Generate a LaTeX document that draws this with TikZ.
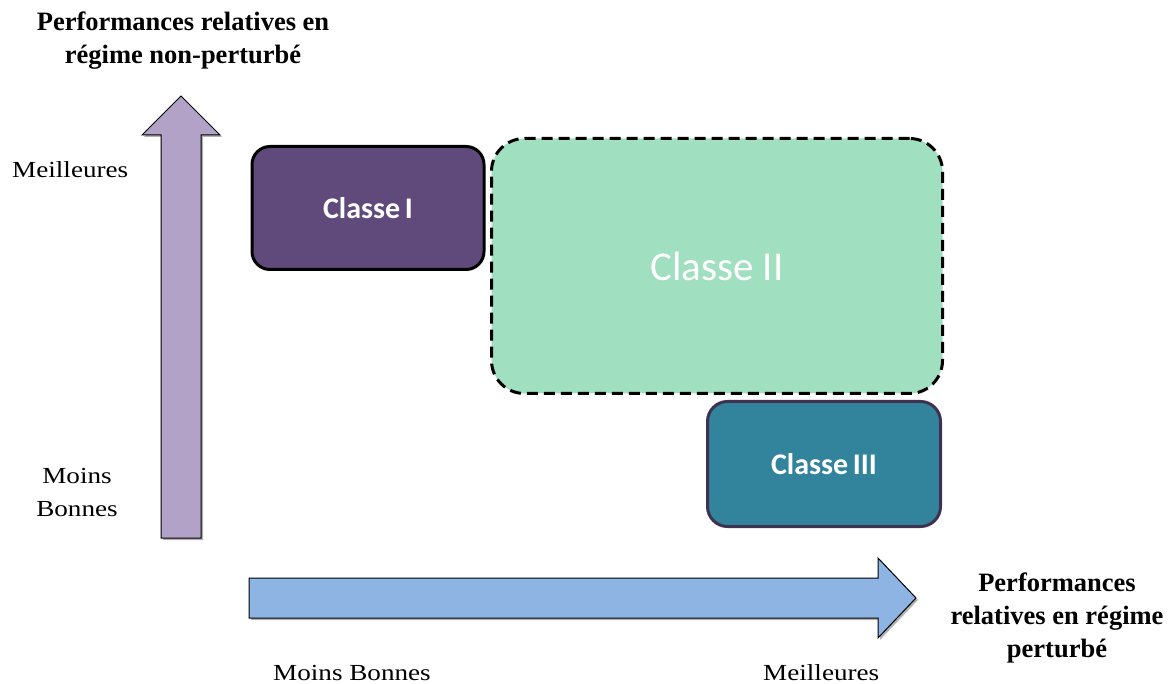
\documentclass[tikz,border=0pt]{standalone}
\usepackage{fontspec}
\setmainfont{Liberation Serif}
\newfontfamily\serifwide[FakeStretch=1.18]{Liberation Serif}
\newfontfamily\calibfont{Carlito}
\usetikzlibrary{shadows}
\definecolor{lav}{HTML}{B3A2C7}
\definecolor{skyb}{HTML}{8EB4E3}
\definecolor{cone}{HTML}{604A7B}
\definecolor{ctwo}{HTML}{A0E0C0}
\definecolor{cthree}{HTML}{31849B}
\definecolor{cthreeb}{HTML}{3F3151}
\tikzset{
  axisarrow/.style={draw=black, line width=1pt, line join=miter,
    drop shadow={shadow xshift=2pt, shadow yshift=-2pt, opacity=0.3, fill=black}},
  classbox/.style={line width=3pt, text=white, inner sep=0pt},
  boldlabel/.style={font=\fontsize{26.5}{33}\selectfont\bfseries, align=center, inner sep=0pt},
  reglabel/.style={font=\serifwide\fontsize{23}{34}\selectfont, align=center, inner sep=0pt}
}
\begin{document}
\begin{tikzpicture}[x=1pt,y=-1pt]
\useasboundingbox (0,0) rectangle (1176,684);
% vertical axis arrow
\path[axisarrow, fill=lav] (181,96) -- (220,135) -- (201,135) -- (201,538) -- (161,538) -- (161,135) -- (142,135) -- cycle;
% horizontal axis arrow
\path[axisarrow, fill=skyb] (249,578) -- (878,578) -- (878,558) -- (916,598) -- (878,638) -- (878,618) -- (249,618) -- cycle;
% boxes
\node[classbox, draw=black, fill=ctwo, dash pattern=on 11pt off 6pt, rounded corners=33pt,
  minimum width=451pt, minimum height=255pt, font=\calibfont\fontsize{41}{41}\selectfont]
  (c2) at (717,266) {Classe II};
\node[classbox, draw=black, fill=cone, rounded corners=18pt,
  minimum width=232pt, minimum height=123pt, font=\calibfont\bfseries\fontsize{30}{30}\selectfont]
  (c1) at (368,208) {Classe\hspace{-2pt} I};
\node[classbox, draw=cthreeb, fill=cthree, rounded corners=20pt,
  minimum width=233pt, minimum height=125pt, font=\calibfont\bfseries\fontsize{30}{30}\selectfont]
  (c3) at (824,464) {Classe\hspace{-2pt} III};
% labels
\node[boldlabel, anchor=base] (ty) at (183,64) {Performances relatives en\\régime non-perturbé};
\node[boldlabel, anchor=base] (tx) at (1057,657) {Performances\\relatives en régime\\perturbé};
\node[reglabel, anchor=base west] (ytop) at (12,178) {Meilleures};
\node[reglabel, anchor=base] (ybot) at (77,517) {Moins\\Bonnes};
\node[reglabel, anchor=base west] (xlow) at (273,680) {Moins Bonnes};
\node[reglabel, anchor=base west] (xhigh) at (763,680) {Meilleures};
\end{tikzpicture}
\end{document}
